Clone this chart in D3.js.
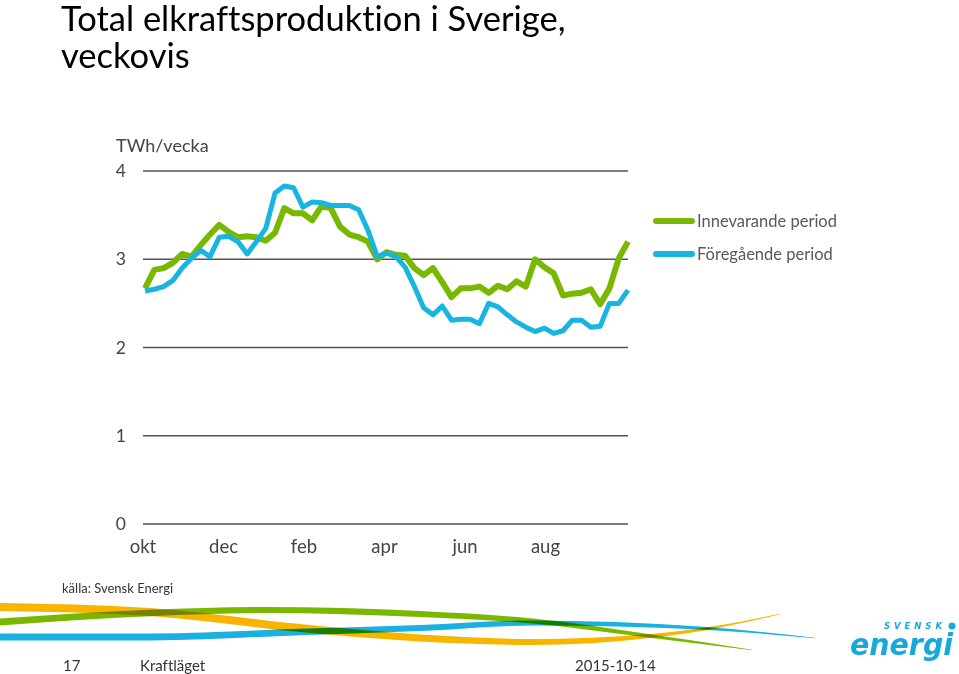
<!DOCTYPE html>
<html>
<head>
<meta charset="utf-8">
<script src="https://cdn.jsdelivr.net/npm/d3@7/dist/d3.min.js"></script>
<style>
  html, body { margin: 0; padding: 0; background: #fff; }
  svg { display: block; }
  text { font-family: Lato, "Open Sans", sans-serif; font-variant-ligatures: none; }
</style>
</head>
<body>
<svg id="chart" width="959" height="674"></svg>
<script>
// ---- data ----
const title = ["Total elkraftsproduktion i Sverige,", "veckovis"];
const unitLabel = "TWh/vecka";
const yTicks = [0, 1, 2, 3, 4];
const monthLabels = ["okt", "dec", "feb", "apr", "jun", "aug"];
const seriesNames = ["Innevarande period", "Föregående period"];
const current = [2.67, 2.88, 2.90, 2.96, 3.06, 3.03, 3.16, 3.28, 3.39, 3.31, 3.25, 3.26, 3.25, 3.21, 3.30,
  3.58, 3.52, 3.52, 3.44, 3.60, 3.58, 3.37, 3.28, 3.25, 3.20, 3.00, 3.08, 3.05, 3.04, 2.90, 2.82, 2.90,
  2.74, 2.57, 2.67, 2.67, 2.69, 2.62, 2.70, 2.66, 2.75, 2.69, 3.00, 2.91, 2.84, 2.59, 2.61, 2.62, 2.66,
  2.49, 2.67, 3.01, 3.20];
const previous = [2.64, 2.66, 2.69, 2.76, 2.90, 3.01, 3.10, 3.03, 3.25, 3.26, 3.20, 3.06, 3.20, 3.35, 3.75,
  3.83, 3.81, 3.59, 3.65, 3.64, 3.61, 3.61, 3.61, 3.56, 3.33, 3.03, 3.07, 3.03, 2.91, 2.69, 2.45, 2.37,
  2.47, 2.31, 2.32, 2.32, 2.27, 2.50, 2.46, 2.37, 2.29, 2.23, 2.18, 2.22, 2.16, 2.19, 2.31, 2.31, 2.23,
  2.24, 2.50, 2.50, 2.65];
const source = "källa: Svensk Energi";
const footer = { page: "17", name: "Kraftläget", date: "2015-10-14" };
const colors = { current: "#78b800", previous: "#18b4e2" };

// ---- drawing ----
const svg = d3.select("#chart");
const nWeeks = current.length;
const x = d3.scaleLinear().domain([0, nWeeks - 1]).range([145, 628]);
const y = d3.scaleLinear().domain([0, 4]).range([524, 171]);

// title
svg.append("text").attr("x", 61).attr("y", 31).attr("font-size", 34.5).attr("fill", "#000")
  .text(title[0]);
svg.append("text").attr("x", 61).attr("y", 68).attr("font-size", 34.5).attr("fill", "#000")
  .text(title[1]);

// unit
svg.append("text").attr("x", 116).attr("y", 152).attr("font-size", 18).attr("fill", "#444")
  .text(unitLabel);

// gridlines + y labels
svg.append("g").selectAll("line").data(yTicks).join("line")
  .attr("x1", 143).attr("x2", 628)
  .attr("y1", d => y(d)).attr("y2", d => y(d))
  .attr("stroke", d => d === 0 ? "#7a7a7a" : "#555").attr("stroke-width", d => d === 0 ? 2 : 1.5);
svg.append("g").selectAll("text").data(yTicks).join("text")
  .attr("x", 126).attr("y", d => y(d) + 6).attr("text-anchor", "end")
  .attr("font-size", 17.5).attr("fill", "#444").text(d => d);

// month labels (every 2 months)
const weeksPerMonth = 52 / 12;
svg.append("g").selectAll("text").data(monthLabels).join("text")
  .attr("x", (d, i) => x(i * 2 * weeksPerMonth) - 2).attr("y", 553).attr("text-anchor", "middle")
  .attr("font-size", 18.5).attr("fill", "#444").text(d => d);

// lines
const line = d3.line().x((d, i) => x(i)).y(d => y(d));
svg.append("path").datum(current).attr("d", line).attr("fill", "none")
  .attr("stroke", colors.current).attr("stroke-width", 6).attr("stroke-linejoin", "round");
svg.append("path").datum(previous).attr("d", line).attr("fill", "none")
  .attr("stroke", colors.previous).attr("stroke-width", 5).attr("stroke-linejoin", "round");

// legend
const legend = svg.append("g");
[[seriesNames[0], colors.current, 221], [seriesNames[1], colors.previous, 254]].forEach(([name, c, ly]) => {
  legend.append("line").attr("x1", 656).attr("x2", 692).attr("y1", ly).attr("y2", ly)
    .attr("stroke", c).attr("stroke-width", 6).attr("stroke-linecap", "round");
  legend.append("text").attr("x", 697).attr("y", ly + 5.5).attr("font-size", 16.5)
    .attr("fill", "#595959").text(name);
});

// source
svg.append("text").attr("x", 62).attr("y", 593).attr("font-size", 13).attr("fill", "#333").text(source);

// decorative swooshes
const ribbons = [
  { color: "#f7b500", pts: [[0,607,8],[150,612,8],[300,628,8],[420,638,7],[533,642,6],[650,636,4],[717,627,2.5],[780,614,0.6]] },
  { color: "#7ab800", pts: [[0,622,7],[150,613,6.5],[267,610,6],[420,614,6],[533,621,5],[650,636,3.5],[752,650,0.6]] },
  { color: "#1ab0e0", pts: [[0,637,7],[150,637,7],[300,632,6.5],[420,628,6],[533,623,5],[700,628,3],[815,638,0.6]] }
];
const area = d3.area().x(d => d[0]).y0(d => d[1] - d[2] / 2).y1(d => d[1] + d[2] / 2).curve(d3.curveMonotoneX);
svg.append("g").style("isolation", "isolate").selectAll("path").data(ribbons).join("path")
  .attr("d", d => area(d.pts)).attr("fill", d => d.color).style("mix-blend-mode", "multiply");

// logo
const logo = svg.append("g");
logo.append("text").attr("x", 884).attr("y", 629).attr("font-size", 8.5).attr("font-weight", "bold")
  .attr("font-style", "italic").attr("fill", "#18a9dc")
  .attr("textLength", 58).attr("lengthAdjust", "spacing")
  .style("font-family", "'DejaVu Sans', sans-serif").text("SVENSK");
logo.append("circle").attr("cx", 952).attr("cy", 626).attr("r", 3.5).attr("fill", "#18a9dc");
logo.append("text").attr("x", 850).attr("y", 655).attr("font-size", 30).attr("font-weight", "900")
  .attr("font-style", "italic").attr("fill", "#18a9dc").attr("textLength", 103).attr("lengthAdjust", "spacingAndGlyphs")
  .style("font-family", "'DejaVu Sans', sans-serif").text("energi");

// footer
svg.append("text").attr("x", 63).attr("y", 671).attr("font-size", 15).attr("fill", "#333").text(footer.page);
svg.append("text").attr("x", 140).attr("y", 671).attr("font-size", 15).attr("fill", "#333").text(footer.name);
svg.append("text").attr("x", 575).attr("y", 671).attr("font-size", 15).attr("fill", "#333").text(footer.date);
</script>
</body>
</html>
